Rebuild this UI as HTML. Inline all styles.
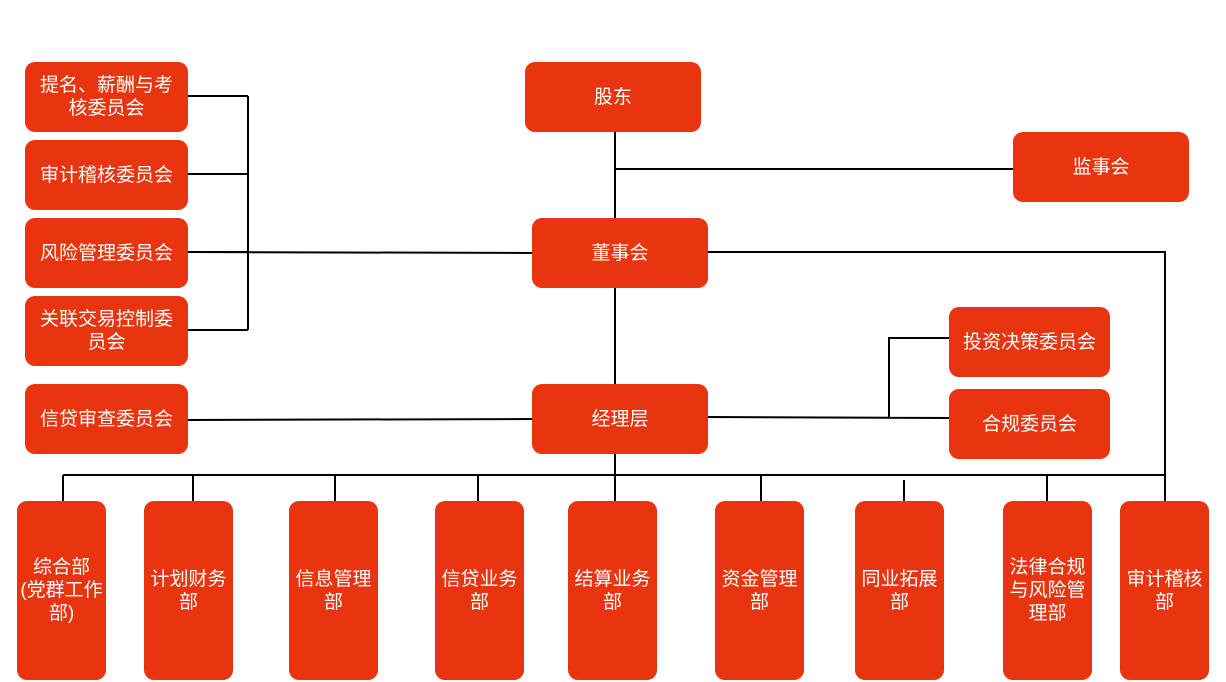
<!DOCTYPE html>
<html><head><meta charset="utf-8"><style>
body{margin:0;width:1226px;height:682px;background:#fff;position:relative;overflow:hidden;font-family:"Liberation Sans","Noto Sans CJK SC",sans-serif}
.b{position:absolute;background:#e8350f;border-radius:10px;color:#fff;font-size:19px;line-height:23px;display:flex;align-items:center;justify-content:center;text-align:center}
svg{position:absolute;left:0;top:0}
</style></head><body>
<svg width="1226" height="682"><g stroke="#000" stroke-width="2" fill="none">
<path d="M248 96V330M188 96H248M188 174H248M188 252H248M188 330H248"/>
<path d="M188 252L532 253"/>
<path d="M615 132V218M615 169H1013M615 288V384"/>
<path d="M708 252H1165V501"/>
<path d="M188 420L532 419"/>
<path d="M708 417L949 418M889 418V338H949"/>
<path d="M63 475H1165M615 454V501"/>
<path d="M63 475V501M193 475V501M335 475V501M478 475V501M761 475V501M904 480V501M1047 475V501"/>
</g></svg>
<div class="b" style="left:25px;top:62px;width:163px;height:70px">提名、薪酬与考<br>核委员会</div>
<div class="b" style="left:25px;top:140px;width:163px;height:70px">审计稽核委员会</div>
<div class="b" style="left:25px;top:218px;width:163px;height:70px">风险管理委员会</div>
<div class="b" style="left:25px;top:296px;width:163px;height:70px">关联交易控制委<br>员会</div>
<div class="b" style="left:25px;top:384px;width:163px;height:70px">信贷审查委员会</div>
<div class="b" style="left:525px;top:62px;width:176px;height:70px">股东</div>
<div class="b" style="left:1013px;top:132px;width:176px;height:70px">监事会</div>
<div class="b" style="left:532px;top:218px;width:176px;height:70px">董事会</div>
<div class="b" style="left:532px;top:384px;width:176px;height:70px">经理层</div>
<div class="b" style="left:949px;top:307px;width:161px;height:70px">投资决策委员会</div>
<div class="b" style="left:949px;top:389px;width:161px;height:70px">合规委员会</div>
<div class="b" style="left:17px;top:501px;width:89px;height:179px">综合部<br>(党群工作<br>部)</div>
<div class="b" style="left:144px;top:501px;width:89px;height:179px">计划财务<br>部</div>
<div class="b" style="left:289px;top:501px;width:89px;height:179px">信息管理<br>部</div>
<div class="b" style="left:435px;top:501px;width:89px;height:179px">信贷业务<br>部</div>
<div class="b" style="left:568px;top:501px;width:89px;height:179px">结算业务<br>部</div>
<div class="b" style="left:715px;top:501px;width:89px;height:179px">资金管理<br>部</div>
<div class="b" style="left:855px;top:501px;width:89px;height:179px">同业拓展<br>部</div>
<div class="b" style="left:1003px;top:501px;width:89px;height:179px">法律合规<br>与风险管<br>理部</div>
<div class="b" style="left:1120px;top:501px;width:89px;height:179px">审计稽核<br>部</div>
</body></html>
